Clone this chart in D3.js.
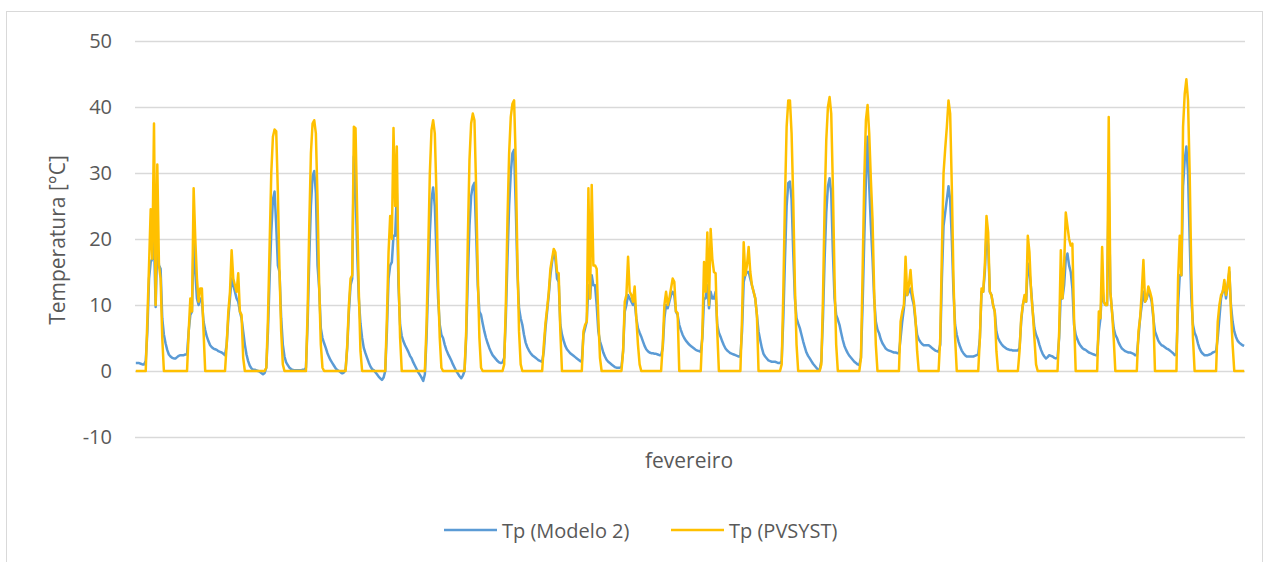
<!DOCTYPE html>
<html>
<head>
<meta charset="utf-8">
<script src="https://cdn.jsdelivr.net/npm/d3@7"></script>
<style>
  body { margin: 0; background: #fff; }
  svg { display: block; font-family: "Open Sans", sans-serif; }
</style>
</head>
<body>
<div id="chart"></div>
<script>
// y axis ticks and labels
const yTicks = [-10, 0, 10, 20, 30, 40, 50];
const yTitle = "Temperatura [°C]";
const xTitle = "fevereiro";
const seriesNames = ["Tp (Modelo 2)", "Tp (PVSYST)"];

// hourly values, one row of 24 per day of February (28 days)
const modelo2Days = [
  [1.2,1.2,1.2,1.1,1.0,1.0,1.5, 6,14,16.5,17,20,9.7,19.5,16,15.5,8,5.5, 4.2,3.2,2.5,2.2,2.0,1.9],
  [1.9,2.1,2.3,2.4,2.4,2.4,2.5, 2.5,6,8.5,9,20,15,11,10,11,10.5,7.5, 6.2,5.2,4.5,3.9,3.6,3.4],
  [3.3,3.2,3.0,2.9,2.8,2.6,2.4, 4,8,11,14,13,12,11,10.5,9,8,6, 4,2.5,1.5,0.8,0.4,0.2],
  [0.2,0.1,0,-0.1,-0.3,-0.5,-0.3, 0.5,6,14,21,26,27.2,22,16,15,8,4, 2.2,1.3,0.9,0.5,0.3,0.15],
  [0.1,0.1,0.1,0.1,0.1,0.2,0.2, 0.5,7,17,25,29.5,30.3,27,16,12.5,6.5,5, 4.2,3.5,2.7,2.1,1.6,1.2],
  [0.8,0.4,0.15,0,-0.2,-0.35,-0.2, 0.3,3.5,9,13,14,32.5,28,18,11,7.2,5, 3.5,2.7,2.0,1.3,0.7,0.3],
  [0.15,-0.2,-0.5,-0.85,-1.1,-1.35,-1.0, 0,6,14,16,16.5,20.5,20.5,27,13,7,5.3, 4.5,3.9,3.4,2.9,2.3,1.9],
  [1.3,0.8,0.3,-0.2,-0.6,-1.0,-1.5, -0.5,5,13,21,26,27.8,25,18,11,7,5.5, 5,4,3.2,2.6,2.1,1.6],
  [1.0,0.5,0,-0.4,-0.8,-1.1,-0.7, 0,5,14,22,26.5,28,28.5,21,13,9,8.5, 7.2,6,5,4.2,3.5,2.9],
  [2.4,2.1,1.8,1.5,1.3,1.2,1.3, 2,8,17,25,30,33,33.5,25,15,9.5,8, 7,5.5,4.3,3.6,3.1,2.7],
  [2.4,2.2,2.0,1.8,1.6,1.5,1.4, 3,6.5,9,11.5,14.5,16.5,18,17,14,13.5,7, 5.5,4.6,3.8,3.3,3.0,2.7],
  [2.5,2.3,2.1,1.9,1.7,1.5,1.4, 5.5,6.5,7.5,13,11,14.5,13,13,10,6,4.5, 3.7,2.8,2.2,1.7,1.4,1.2],
  [1.0,0.8,0.6,0.5,0.5,0.5,0.6, 3,9,10,11.5,11,10.5,10,10.5,8,6.5,5.8, 5.2,4.5,3.8,3.3,3.0,2.8],
  [2.7,2.7,2.6,2.6,2.5,2.4,2.4, 3.5,8,10,9.5,10.5,11.5,12,11.5,9,8.5,7, 6.2,5.5,5,4.6,4.3,4.0],
  [3.8,3.6,3.4,3.2,3.1,3.0,2.9, 5,11,11,13,9.5,12,11,11,12,7,5.8, 5.2,4.5,3.9,3.4,3.1,2.9],
  [2.7,2.6,2.5,2.4,2.3,2.2,2.2, 6,13.5,14.5,15,15,14,13,12,11,8.5,6, 4.7,3.5,2.6,2.2,1.9,1.6],
  [1.5,1.4,1.4,1.4,1.3,1.2,1.2, 1.5,8,17,25,28.5,28.7,26,18,11,8,7.2, 6.5,5.5,4.5,3.6,2.8,2.3],
  [1.9,1.5,1.1,0.8,0.5,0.2,0.15, 1.5,8,17,24,28,29.2,27,18,11,8.5,7.8, 7,5.8,4.7,3.8,3.2,2.7],
  [2.3,2.0,1.7,1.4,1.2,1.0,0.9, 2,10,20,29,35.5,28,22,17,11,7.5,6.3, 5.7,4.8,4.2,3.8,3.4,3.2],
  [3.1,3.0,2.9,2.8,2.8,2.7,2.7, 5,7.5,9.5,12.5,11.5,12,12.5,11,10,7.5,5.5, 4.8,4.4,4.1,3.9,3.9,3.9],
  [3.9,3.7,3.5,3.3,3.1,3.0,2.9, 4,14,22,24,26,28,26,20,12,7,5.5, 4.5,3.7,3.1,2.7,2.4,2.2],
  [2.2,2.2,2.2,2.2,2.3,2.4,2.5, 5,12,12,15,21,19,12,11.5,10,9,6, 5,4.5,4.1,3.8,3.6,3.4],
  [3.3,3.2,3.2,3.1,3.1,3.1,3.1, 3.5,7.5,10,11,10.5,16.3,15,12.5,9,6.5,5.5, 4.9,4.0,3.2,2.6,2.2,1.9],
  [2.1,2.4,2.3,2.2,2.0,1.9,2.0, 5,12,11,13,17,17.8,16,15,12.5,7,5.5, 4.8,4.2,3.8,3.5,3.3,3.2],
  [3.0,2.8,2.7,2.6,2.5,2.4,2.4, 6,8,13,10.5,10,10,28,12,9,6.5,5.5, 5.0,4.3,3.8,3.4,3.2,3.0],
  [2.9,2.8,2.8,2.7,2.6,2.4,2.4, 5,8,10,12,10.5,11,12,11.5,10.5,8,6, 5.3,4.6,4.2,3.9,3.8,3.6],
  [3.4,3.3,3.1,2.9,2.7,2.4,2.5, 10,14.5,14.5,28,32,34,30,20,11,7,5.8, 5.2,4.2,3.4,2.9,2.6,2.4],
  [2.4,2.4,2.5,2.6,2.8,2.9,3.0, 5,8,11,12,13,11,13,15,10,7.5,6, 5.2,4.6,4.3,4.1,3.9,3.8]
];

const pvsystDays = [
  [0,0,0,0,0,0,0, 8,16,24.5,17,37.5,10,31.3,16,14,5,0, 0,0,0,0,0,0],
  [0,0,0,0,0,0,0, 0,6,11,9,27.7,20,14,10.5,12.5,12.5,6, 0,0,0,0,0,0],
  [0,0,0,0,0,0,0, 4,9,12,18.3,14,13,12,14.8,9,8.5,2, 0,0,0,0,0,0],
  [0,0,0,0,0,0,0, 0.5,8,19,30,35.5,36.6,36.3,27,15,6,1, 0,0,0,0,0,0],
  [0,0,0,0,0,0,0, 0,9,22,33,37.5,38,36,26,13,4,0.5, 0,0,0,0,0,0],
  [0,0,0,0,0,0,0, 0,4,10,14,14.5,37,36.8,24,12,3,0, 0,0,0,0,0,0],
  [0,0,0,0,0,0,0, 0,8,18,23.5,20,36.8,25,34,15,5,0, 0,0,0,0,0,0],
  [0,0,0,0,0,0,0, 0,7,18,30,36.5,38,36,27,13,5,0.5, 0,0,0,0,0,0],
  [0,0,0,0,0,0,0, 0,6,20,32,37.5,39,38,28,15,5,0.5, 0,0,0,0,0,0],
  [0,0,0,0,0,0,0, 1,10,23,33,38.5,40.5,41,32,17,6,1, 0,0,0,0,0,0],
  [0,0,0,0,0,0,0, 4,7.2,9.5,12,15.5,17,18.5,18,15,14.8,6, 0,0,0,0,0,0],
  [0,0,0,0,0,0,0, 6,7,7.5,27.7,11,28.2,16,16,15.5,8,2, 0,0,0,0,0,0],
  [0,0,0,0,0,0,0, 3,10.5,11.5,17.3,12,11.5,10.5,12.8,8,4,1, 0,0,0,0,0,0],
  [0,0,0,0,0,0,0, 4,10,12,10,11,12.5,14,13.5,9,8.8,0, 0,0,0,0,0,0],
  [0,0,0,0,0,0,0, 6,16.5,12,21,10,21.5,17,15,14.8,6,0, 0,0,0,0,0,0],
  [0,0,0,0,0,0,0, 8,19.5,14.5,16,18.8,15,13,12,11,8.5,0, 0,0,0,0,0,0],
  [0,0,0,0,0,0,0, 1,12,26,37,41,41,36,26,13,4,0, 0,0,0,0,0,0],
  [0,0,0,0,0,0,0, 1,11,25,35,40,41.5,39,28,14,4,0, 0,0,0,0,0,0],
  [0,0,0,0,0,0,0, 2,15,29,38,40.3,36,29,23,12,4,0, 0,0,0,0,0,0],
  [0,0,0,0,0,0,0, 7.5,9,10,17.3,11.5,13,15.3,12,10.5,8,3, 0,0,0,0,0,0],
  [0,0,0,0,0,0,0, 5,18,30,33.7,37,41,39,28,14,5,0, 0,0,0,0,0,0],
  [0,0,0,0,0,0,0, 5,12.5,12,16,23.5,21,12,11.5,10,9,3, 0,0,0,0,0,0],
  [0,0,0,0,0,0,0, 3,8,10,11.5,10.5,20.5,18,12,9,5,1, 0,0,0,0,0,0],
  [0,0,0,0,0,0,0, 6,18.3,11,16,24,22,20,19,19.3,8,0, 0,0,0,0,0,0],
  [0,0,0,0,0,0,0, 9,8,18.8,10.5,10,10,38.5,12,9,5,0, 0,0,0,0,0,0],
  [0,0,0,0,0,0,0, 6,8,12,16.8,10.5,11,12.8,12,11,8.5,0, 0,0,0,0,0,0],
  [0,0,0,0,0,0,0, 14,20.5,14.5,37,42,44.2,41,30,15,5,0, 0,0,0,0,0,0],
  [0,0,0,0,0,0,0, 7.5,10,11.5,12,13.8,11.5,13,15.7,9,4,0, 0,0,0,0,0,0]
];

const colors = {
  modelo2: "#5B9BD5",
  pvsyst:  "#FFC000",
  grid:    "#D9D9D9",
  text:    "#595959",
};

const W = 1270, H = 562;
const plot = { left: 135, right: 1245, top: 41, bottom: 437 };

const modelo2 = modelo2Days.flat();
const pvsyst  = pvsystDays.flat();

const svg = d3.select("#chart").append("svg")
  .attr("width", W)
  .attr("height", H);

// chart frame
svg.append("rect")
  .attr("x", 6.5).attr("y", 11.5)
  .attr("width", 1256).attr("height", 570)
  .attr("fill", "none")
  .attr("stroke", colors.grid);

const x = d3.scalePoint()
  .domain(d3.range(modelo2.length))
  .range([plot.left, plot.right])
  .padding(0.5);

const y = d3.scaleLinear()
  .domain([-10, 50])
  .range([plot.bottom, plot.top]);

// gridlines + tick labels
const yAxis = svg.append("g")
  .attr("transform", `translate(${plot.left},0)`)
  .call(d3.axisLeft(y)
    .tickValues(yTicks)
    .tickFormat(d => String(d))
    .tickSize(-(plot.right - plot.left))
    .tickPadding(23))
  .call(g => g.select(".domain").remove());

yAxis.selectAll(".tick line")
  .attr("stroke", colors.grid)
  .attr("stroke-width", 1.3);

yAxis.selectAll(".tick text")
  .attr("fill", colors.text)
  .style("font-family", "'Open Sans', sans-serif")
  .style("font-size", "20px");

// axis titles
svg.append("text")
  .attr("transform", "translate(57,240) rotate(-90)")
  .attr("text-anchor", "middle")
  .attr("dominant-baseline", "central")
  .style("font-size", "21px")
  .style("fill", colors.text)
  .text(yTitle);

svg.append("text")
  .attr("x", 689).attr("y", 460)
  .attr("text-anchor", "middle")
  .attr("dominant-baseline", "central")
  .style("font-size", "21px")
  .style("fill", colors.text)
  .text(xTitle);

// lines
const line = d3.line()
  .x((d, i) => x(i))
  .y(d => y(d));

svg.append("path")
  .datum(modelo2)
  .attr("fill", "none")
  .attr("stroke", colors.modelo2)
  .attr("stroke-width", 2.5)
  .attr("stroke-linejoin", "round")
  .attr("d", line);

svg.append("path")
  .datum(pvsyst)
  .attr("fill", "none")
  .attr("stroke", colors.pvsyst)
  .attr("stroke-width", 2.5)
  .attr("stroke-linejoin", "round")
  .attr("d", line);

// legend
const legend = [
  { name: seriesNames[0], color: colors.modelo2, x: 444 },
  { name: seriesNames[1], color: colors.pvsyst,  x: 671 },
];

const lg = svg.selectAll(".legend")
  .data(legend).enter().append("g")
  .attr("class", "legend")
  .attr("transform", d => `translate(${d.x},530)`);

lg.append("line")
  .attr("x1", 0).attr("x2", 53)
  .attr("stroke", d => d.color)
  .attr("stroke-width", 2.5);

lg.append("text")
  .attr("x", 58)
  .attr("dominant-baseline", "central")
  .style("font-size", "20px")
  .style("fill", colors.text)
  .text(d => d.name);
</script>
</body>
</html>
